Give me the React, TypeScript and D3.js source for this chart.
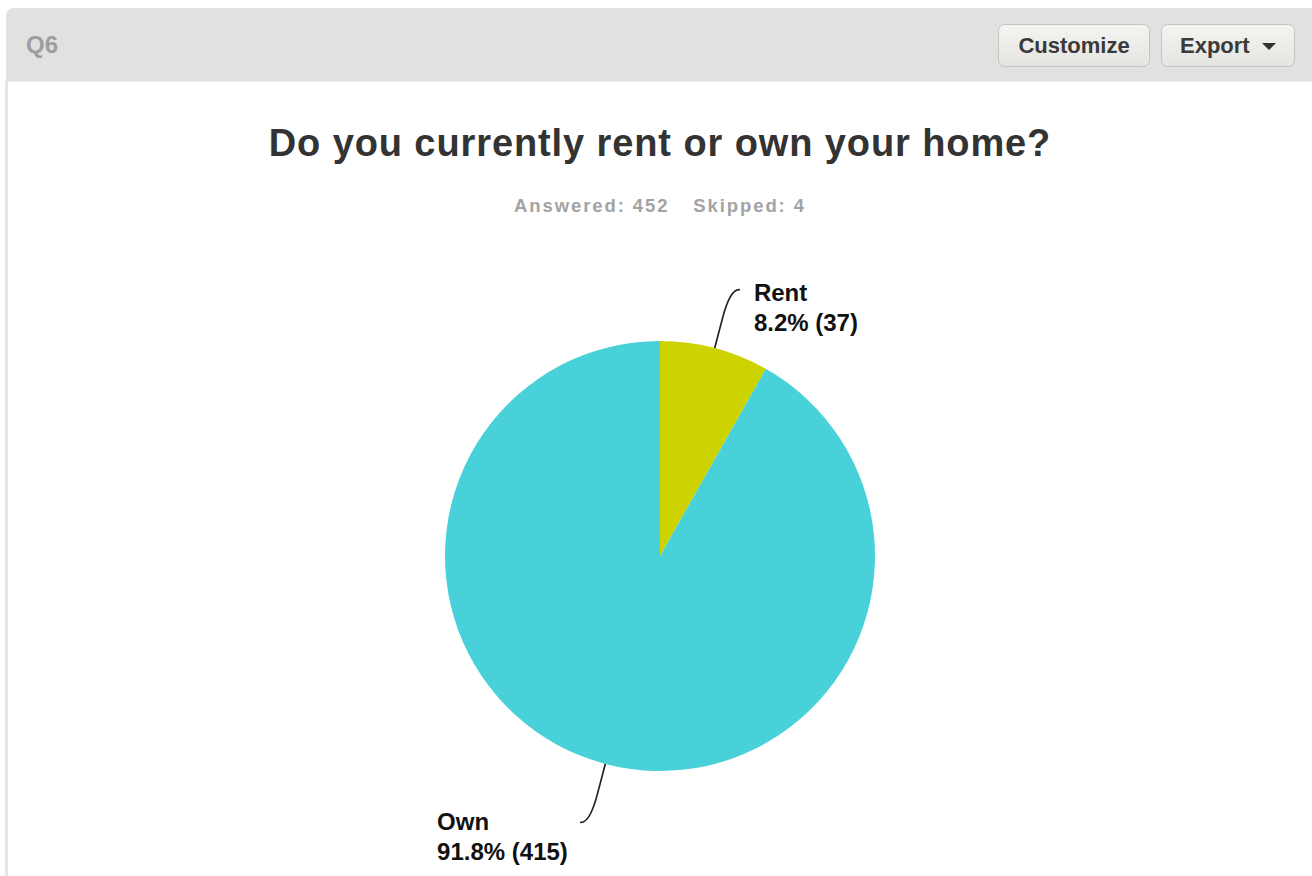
import React from "react";
import * as d3 from "d3";

const categories = ["Rent", "Own"];
const counts = [37, 415];
const percentLabels = ["8.2%", "91.8%"];
const colors = ["#cdd300", "#48d1d8"];
const questionId = "Q6";
const title = "Do you currently rent or own your home?";
const answered = 452;
const skipped = 4;

const W = 1312;
const H = 876;
const cx = 660;
const cy = 556;
const R = 215;

export default function App() {
  const pie = d3
    .pie<number>()
    .sort(null)
    .value((d) => d)
    .startAngle(0)
    .endAngle(2 * Math.PI);
  const arcs = pie(counts);
  const arcGen = d3.arc<d3.PieArcDatum<number>>().innerRadius(0).outerRadius(R);

  const font = "'Liberation Sans', Arial, Helvetica, sans-serif";

  const polar = (a: number, r: number): [number, number] => [
    cx + r * Math.sin(a),
    cy - r * Math.cos(a),
  ];

  const leaders = arcs.map((a, i) => {
    const mid = (a.startAngle + a.endAngle) / 2;
    const p0 = polar(mid, R);
    const p1 = polar(mid, R + 52);
    const right = Math.sin(mid) >= 0;
    const dir = right ? 1 : -1;
    const p2: [number, number] = [p1[0] + dir * 12, p1[1] + (Math.cos(mid) >= 0 ? -8 : 8)];
    const path = d3.path();
    path.moveTo(p0[0], p0[1]);
    const c: [number, number] = polar(mid, R + 62);
    path.lineTo(p0[0] + (p1[0] - p0[0]) * 0.6, p0[1] + (p1[1] - p0[1]) * 0.6);
    path.quadraticCurveTo(c[0], c[1], p2[0], p2[1]);
    return { path: path.toString(), end: p2, right, top: Math.cos(mid) >= 0, i };
  });

  return (
    <svg
      width={W}
      height={H}
      style={{ position: "absolute", left: 0, top: 0, background: "#fff" }}
      fontFamily={font}
    >
      <defs>
        <linearGradient id="btn" x1="0" y1="0" x2="0" y2="1">
          <stop offset="0" stopColor="#f4f4f0" />
          <stop offset="1" stopColor="#e4e4e0" />
        </linearGradient>
      </defs>
      {/* panel */}
      <path
        d={`M6,${H} L6,16 Q6,8 14,8 L${W},8 L${W},81 L8,81 L8,${H} Z`}
        fill="#e1e1e1"
      />
      <rect x={5} y={81} width={3} height={H - 81} fill="#e6e6e6" />
      <rect x={8} y={81} width={W - 8} height={1} fill="#eeeeee" />
      <text x={26} y={53} fontSize={24} fontWeight="bold" fill="#9e9e9e">
        {questionId}
      </text>
      {/* buttons */}
      <rect x={998.5} y={24.5} width={151} height={42} rx={6} fill="url(#btn)" stroke="#c4c4c0" />
      <text x={1074} y={53} fontSize={22} fontWeight="bold" fill="#3a3a3a" textAnchor="middle">
        Customize
      </text>
      <rect x={1161.5} y={24.5} width={133} height={42} rx={6} fill="url(#btn)" stroke="#c4c4c0" />
      <text x={1180} y={53} fontSize={22} fontWeight="bold" fill="#3a3a3a">
        Export
      </text>
      <path d="M1262,43 L1276,43 L1269,50 Z" fill="#333" />

      {/* title */}
      <text
        x={cx}
        y={156}
        fontSize={38}
        fontWeight="bold"
        fill="#333333"
        textAnchor="middle"
        letterSpacing={0.9}
      >
        {title}
      </text>
      <text x={cx} y={212} fontSize={18.5} fontWeight="bold" fill="#a3a3a3" textAnchor="middle" letterSpacing={1.9}>
        <tspan>{`Answered: ${answered}`}</tspan>
        <tspan dx={24}>{`Skipped: ${skipped}`}</tspan>
      </text>

      {/* pie */}
      <g transform={`translate(${cx},${cy})`}>
        {arcs.map((a, i) => (
          <path key={categories[i]} d={arcGen(a) || ""} fill={colors[i]} />
        ))}
      </g>
      {leaders.map((l) => (
        <path key={"l" + l.i} d={l.path} fill="none" stroke="#222" strokeWidth={1.7} />
      ))}
      {leaders.map((l) => {
        const x = l.right ? l.end[0] + 14 : l.end[0] - 143;
        const y = l.top ? l.end[1] + 11 : l.end[1] + 8;
        return (
          <text key={"t" + l.i} x={x} y={y} fontSize={24} fontWeight="bold" fill="#111">
            <tspan x={x}>{categories[l.i]}</tspan>
            <tspan x={x} dy={30}>{`${percentLabels[l.i]} (${counts[l.i]})`}</tspan>
          </text>
        );
      })}
    </svg>
  );
}
